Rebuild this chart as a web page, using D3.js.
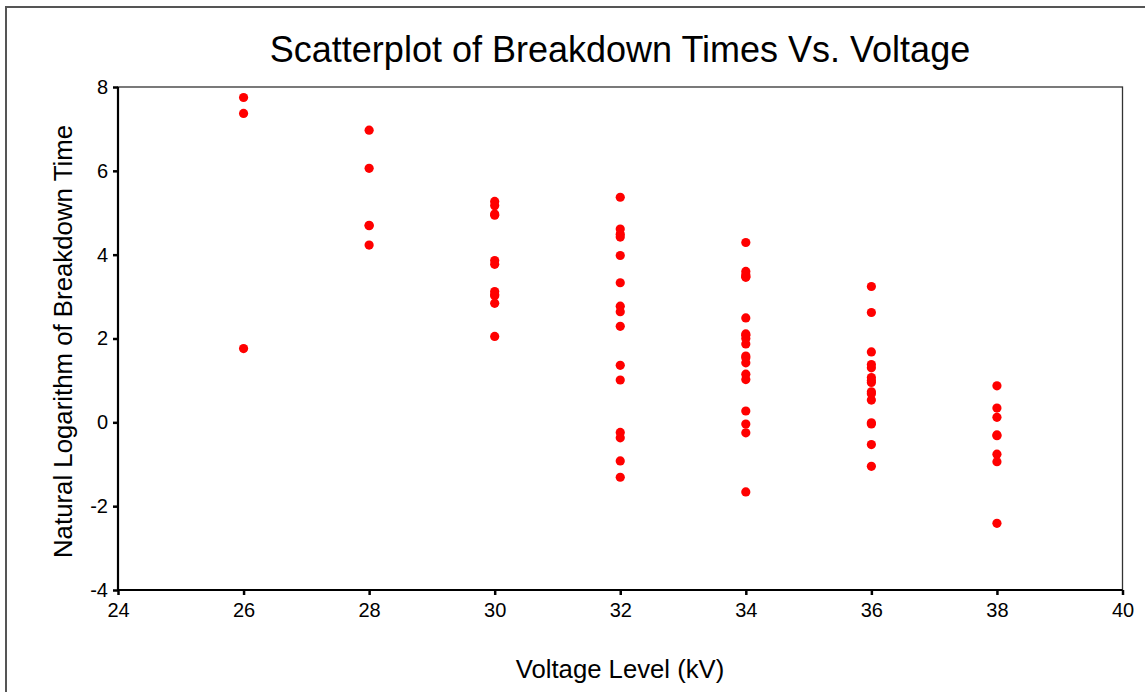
<!DOCTYPE html>
<html>
<head>
<meta charset="utf-8">
<script src="https://cdn.jsdelivr.net/npm/d3@7"></script>
<style>
  body { margin: 0; background: #fff; overflow: hidden; }
  svg { display: block; font-family: Arial, "Liberation Sans", sans-serif; }
</style>
</head>
<body>
<svg id="chart"></svg>
<script>
// voltage levels (kV) and ln(breakdown time)
const voltages = [26, 28, 30, 32, 34, 36, 38];
const logTimes = [
  [1.76, 7.37, 7.75],
  [4.23, 4.69, 4.70, 6.06, 6.97],
  [2.05, 2.84, 3.02, 3.05, 3.12, 3.77, 3.86, 4.94, 4.97, 5.17, 5.27],
  [-1.31, -0.92, -0.37, -0.24, 1.01, 1.36, 2.29, 2.64, 2.77, 3.33, 3.98, 4.42, 4.49, 4.61, 5.37],
  [-1.66, -0.25, -0.04, 0.27, 1.02, 1.15, 1.42, 1.54, 1.58, 1.87, 2.00, 2.08, 2.11, 2.49, 3.46, 3.48, 3.52, 3.60, 4.29],
  [-1.05, -0.53, -0.04, -0.01, 0.53, 0.68, 0.73, 0.95, 1.00, 1.07, 1.30, 1.38, 1.68, 2.62, 3.24],
  [-2.41, -0.94, -0.76, -0.32, -0.30, 0.12, 0.34, 0.87]
];
const xTicks = [24, 26, 28, 30, 32, 34, 36, 38, 40];
const yTicks = [-4, -2, 0, 2, 4, 6, 8];

const width = 1145, height = 692;
const margin = {top: 87, right: 22.5, bottom: 102, left: 118};

const svg = d3.select('#chart')
  .attr('width', width)
  .attr('height', height);

// outer frame: only left and top edges show, the rest runs off the page
svg.append('path')
  .attr('d', `M6,${height + 5}V7H${width + 5}`)
  .attr('fill', 'none')
  .attr('stroke', '#555')
  .attr('stroke-width', 2);

const x = d3.scaleLinear()
  .domain([24, 40])
  .range([margin.left, width - margin.right]);
const y = d3.scaleLinear()
  .domain([-4, 8])
  .range([height - margin.bottom, margin.top]);

// plot box
svg.append('rect')
  .attr('x', x(24)).attr('y', y(8))
  .attr('width', x(40) - x(24)).attr('height', y(-4) - y(8))
  .attr('fill', 'none')
  .attr('stroke', '#333')
  .attr('stroke-width', 1.3);

const xAxis = svg.append('g')
  .attr('transform', `translate(0,${y(-4)})`)
  .call(d3.axisBottom(x).tickValues(xTicks).tickSize(5).tickPadding(8).tickFormat(d3.format('d')));
const yAxis = svg.append('g')
  .attr('transform', `translate(${x(24)},0)`)
  .call(d3.axisLeft(y).tickValues(yTicks).tickSize(5).tickPadding(5).tickFormat(d => d < 0 ? '-' + Math.abs(d) : d));

[xAxis, yAxis].forEach(g => {
  g.attr('font-size', null).attr('font-family', null);
  g.select('.domain').attr('stroke', '#000').attr('stroke-width', 2.2);
  g.selectAll('.tick line').attr('stroke', '#000').attr('stroke-width', 2.5);
  g.selectAll('.tick text')
    .attr('fill', '#000')
    .style('font-size', '20px');
});
xAxis.select('.domain').attr('d', `M${x(24)},0H${x(40)}`);
yAxis.select('.domain').attr('d', `M0,${y(-4)}V${y(8)}`);

// points
const points = voltages.flatMap((v, i) => logTimes[i].map(t => ({v, t})));
svg.append('g')
  .selectAll('circle')
  .data(points)
  .enter()
  .append('circle')
  .attr('cx', d => x(d.v))
  .attr('cy', d => y(d.t))
  .attr('r', 4.6)
  .attr('fill', '#ff0000');

// title and axis labels
svg.append('text')
  .attr('x', 620).attr('y', 62)
  .attr('text-anchor', 'middle')
  .style('font-size', '36px')
  .text('Scatterplot of Breakdown Times Vs. Voltage');

svg.append('text')
  .attr('x', 620).attr('y', 678)
  .attr('text-anchor', 'middle')
  .style('font-size', '25.7px')
  .text('Voltage Level (kV)');

svg.append('text')
  .attr('transform', 'translate(72,341.5) rotate(-90)')
  .attr('text-anchor', 'middle')
  .style('font-size', '25.8px')
  .text('Natural Logarithm of Breakdown Time');
</script>
</body>
</html>
